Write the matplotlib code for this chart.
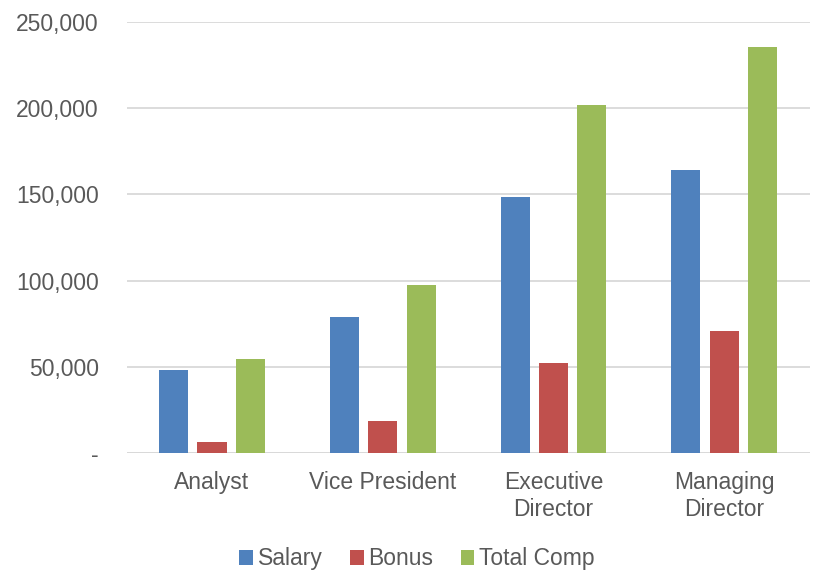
import numpy as np
import matplotlib.pyplot as plt
from matplotlib.ticker import FuncFormatter

plt.rcParams['font.family'] = ['Liberation Sans', 'DejaVu Sans']

categories = ['Analyst', 'Vice President', 'Executive\nDirector', 'Managing\nDirector']
salary = [48000, 79000, 148500, 164000]
bonus = [6500, 18500, 52500, 71000]
total_comp = [54500, 97500, 201500, 235500]

series = [('Salary', salary, '#4F81BD'),
          ('Bonus', bonus, '#C0504D'),
          ('Total Comp', total_comp, '#9BBB59')]

fig = plt.figure(figsize=(8.17, 5.73), dpi=100)
ax = fig.add_axes([0.155, 0.209, 0.836, 0.753])

x = np.arange(len(categories))
width = 0.17
offsets = [-0.225, 0.0, 0.225]
for (name, vals, col), off in zip(series, offsets):
    ax.bar(x + off, vals, width, color=col, label=name, zorder=3)

ax.set_xlim(-0.5, len(categories) - 0.5)
ax.set_ylim(0, 250000)
ax.set_yticks(np.arange(0, 250001, 50000))
ax.yaxis.set_major_formatter(FuncFormatter(lambda v, p: '-' if v == 0 else f'{v:,.0f}'))
ax.set_xticks(x)
ax.set_xticklabels(categories)

ax.grid(axis='y', color='#D9D9D9', linewidth=1.3, zorder=0)
for s in ['top', 'right', 'left', 'bottom']:
    ax.spines[s].set_visible(False)
ax.axhline(0, color='#D9D9D9', linewidth=1.3, zorder=2)
ax.tick_params(axis='both', length=0, labelsize=16.5, labelcolor='#595959')
ax.tick_params(axis='y', pad=20)
ax.tick_params(axis='x', pad=13)

ax.legend(loc='center', bbox_to_anchor=(0.425, -0.245), ncol=3, frameon=False,
          fontsize=16.5, labelcolor='#595959', handlelength=0.6, handleheight=0.6,
          handletextpad=0.2, columnspacing=1.2)

fig.savefig('out.png', dpi=100)
